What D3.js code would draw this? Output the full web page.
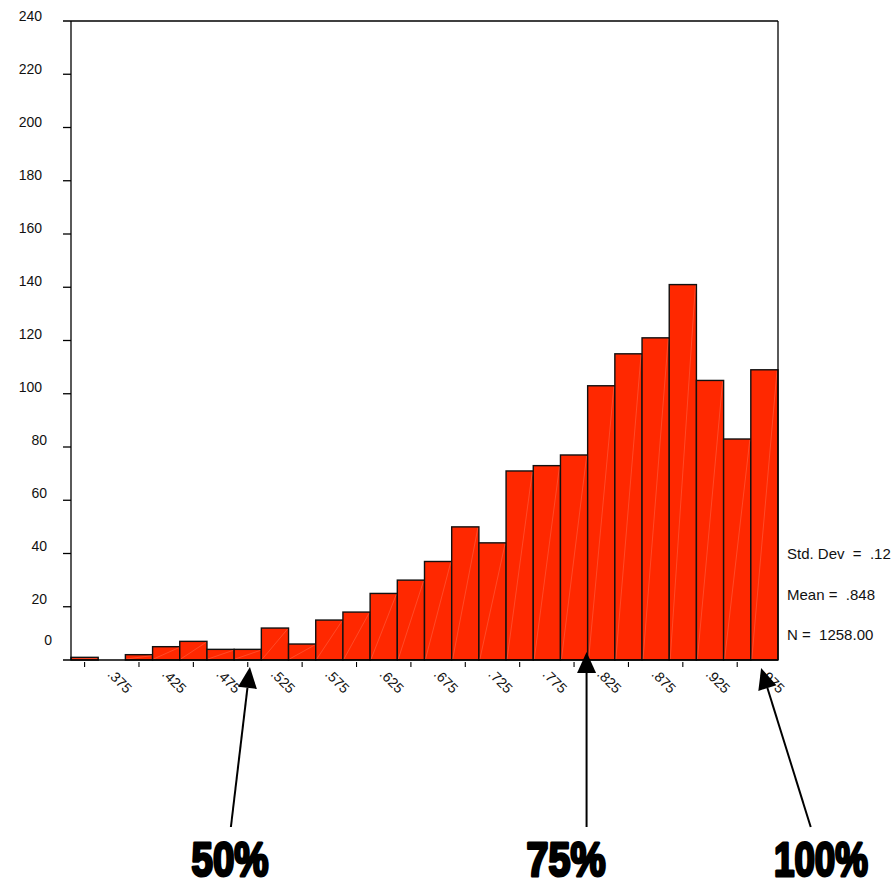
<!DOCTYPE html>
<html>
<head>
<meta charset="utf-8">
<script src="https://cdn.jsdelivr.net/npm/d3@7/dist/d3.min.js"></script>
<style>
  html, body { margin: 0; padding: 0; background: #ffffff; }
  svg { display: block; font-family: Arial, "Liberation Sans", sans-serif; }
</style>
</head>
<body>
<div id="chart"></div>
<script>
// ---------------- data ----------------
const binCenters = [0.350, 0.375, 0.400, 0.425, 0.450, 0.475, 0.500, 0.525, 0.550, 0.575,
                    0.600, 0.625, 0.650, 0.675, 0.700, 0.725, 0.750, 0.775, 0.800, 0.825,
                    0.850, 0.875, 0.900, 0.925, 0.950, 0.975];
const counts = [1, 0, 2, 5, 7, 4, 4, 12, 6, 15,
                18, 25, 30, 37, 50, 44, 71, 73, 77, 103,
                115, 121, 141, 105, 83, 109];
const tickMarks = [0.35, 0.40, 0.45, 0.50, 0.55, 0.60, 0.65, 0.70, 0.75, 0.80, 0.85, 0.90, 0.95];
const tickLabelValues = [0.375, 0.425, 0.475, 0.525, 0.575, 0.625, 0.675, 0.725, 0.775, 0.825, 0.875, 0.925, 0.975];
const tickLabels = [".375", ".425", ".475", ".525", ".575", ".625", ".675", ".725", ".775", ".825", ".875", ".925", ".975"];
const yTicks = [0, 20, 40, 60, 80, 100, 120, 140, 160, 180, 200, 220, 240];
const statsLines = ["Std. Dev  =  .12", "Mean =  .848", "N =  1258.00"];
const arrowLabels = ["50%", "75%", "100%"];
const arrowTargets = [0.502, 0.8115, 0.972];   // x value the arrow points at
const arrowTails = [0.4845, 0.8115, 1.0176];   // x value of the arrow's lower end
const arrowLabelCenters = [0.4837, 0.7926, 1.027];

// ---------------- layout ----------------
const W = 894, H = 882;
const plot = { left: 71, right: 778, top: 21, bottom: 660 };
const binWidth = 0.025;

const svg = d3.select("#chart").append("svg")
  .attr("width", W).attr("height", H)
  .attr("viewBox", `0 0 ${W} ${H}`);

const x = d3.scaleLinear()
  .domain([binCenters[0] - binWidth / 2, binCenters[binCenters.length - 1] + binWidth / 2])
  .range([plot.left, plot.right]);
const y = d3.scaleLinear().domain([0, 240]).range([plot.bottom, plot.top]);
// tick labels in the original sit slightly off their ticks
const yLab = d3.scaleLinear().domain([20, 240]).range([604, 21]);

// ---------------- bars ----------------
const bars = svg.append("g");
bars.selectAll("rect")
  .data(counts.map((c, i) => ({ c, x: binCenters[i] })))
  .join("rect")
  .attr("x", d => x(d.x - binWidth / 2))
  .attr("width", d => x(d.x + binWidth / 2) - x(d.x - binWidth / 2))
  .attr("y", d => y(d.c))
  .attr("height", d => y(0) - y(d.c))
  .attr("fill", "#ff2800")
  .attr("stroke", "#111")
  .attr("stroke-width", 1.4);

// faint diagonal streaks inside bars
bars.selectAll("line.streak")
  .data(counts.map((c, i) => ({ c, x: binCenters[i] })).filter(d => d.c > 0))
  .join("line")
  .attr("class", "streak")
  .attr("x1", d => x(d.x - binWidth / 2) + 1)
  .attr("y1", y(0) - 1)
  .attr("x2", d => x(d.x + binWidth / 2) - 1)
  .attr("y2", d => y(d.c) + 1)
  .attr("stroke", "rgba(255,170,150,0.45)")
  .attr("stroke-width", 0.6);

// ---------------- frame / axes ----------------
const axisG = svg.append("g").attr("stroke", "#000").attr("stroke-width", 1.3).attr("fill", "none");
axisG.append("line").attr("x1", plot.left).attr("x2", plot.left).attr("y1", y(240)).attr("y2", y(0));
axisG.append("line").attr("x1", plot.right).attr("x2", plot.right).attr("y1", y(240)).attr("y2", y(0));
axisG.append("line").attr("x1", plot.left - 8).attr("x2", plot.right).attr("y1", y(240)).attr("y2", y(240));
axisG.append("line").attr("x1", plot.left - 8).attr("x2", plot.right).attr("y1", y(0)).attr("y2", y(0))
  .attr("stroke-width", 1.6);
axisG.selectAll("line.yt").data(yTicks.filter(v => v > 0 && v < 240)).join("line")
  .attr("class", "yt")
  .attr("x1", plot.left - 8).attr("x2", plot.left)
  .attr("y1", d => y(d)).attr("y2", d => y(d));
axisG.selectAll("line.xt").data(tickMarks).join("line")
  .attr("class", "xt")
  .attr("x1", d => x(d)).attr("x2", d => x(d))
  .attr("y1", y(0) + 2).attr("y2", y(0) + 7)
  .attr("stroke-width", 1.1);

// y labels
svg.append("g").selectAll("text").data(yTicks).join("text")
  .attr("x", d => 42 + (3 - String(d).length) * 5)
  .attr("y", d => d === 0 ? y(0) - 15 : yLab(d))
  .attr("text-anchor", "end")
  .attr("font-size", 14)
  .attr("fill", "#111")
  .text(d => String(d));

// x labels (rotated)
svg.append("g").selectAll("text").data(tickLabelValues).join("text")
  .attr("transform", d => `translate(${x(d) - 5},${y(0) + 15}) rotate(45)`)
  .attr("font-size", 14)
  .attr("fill", "#111")
  .text((d, i) => tickLabels[i]);

// stats text
svg.append("g").selectAll("text").data(statsLines).join("text")
  .attr("x", 787)
  .attr("y", (d, i) => 559 + i * 40.5)
  .attr("font-size", 15)
  .attr("fill", "#111")
  .style("white-space", "pre")
  .attr("xml:space", "preserve")
  .text(d => d);

// ---------------- arrows ----------------
const tailY = 827, labelBase = 876;
const tipYs = [y(0) + 7, y(0) - 8, y(0) + 8];
const arrows = svg.append("g");
arrowTargets.forEach((t, i) => {
  const x1 = x(arrowTails[i]), y1 = tailY;
  const x2 = x(t), y2 = tipYs[i];
  const dx = x2 - x1, dy = y2 - y1, len = Math.hypot(dx, dy);
  const ux = dx / len, uy = dy / len;
  const headLen = 21, headHalf = 9.5;
  const bx = x2 - ux * headLen, by = y2 - uy * headLen;
  arrows.append("line")
    .attr("x1", x1).attr("y1", y1).attr("x2", bx).attr("y2", by)
    .attr("stroke", "#000").attr("stroke-width", 2);
  arrows.append("path")
    .attr("d", `M${x2},${y2}L${bx - uy * headHalf},${by + ux * headHalf}L${bx + uy * headHalf},${by - ux * headHalf}Z`)
    .attr("fill", "#000");
});

// big percentage labels
const labelWidths = [80, 82, 97];
svg.append("g").selectAll("text").data(arrowLabels).join("text")
  .attr("x", (d, i) => x(arrowLabelCenters[i]))
  .attr("y", labelBase)
  .attr("text-anchor", "middle")
  .attr("font-family", "'Liberation Sans', Arial, sans-serif")
  .attr("font-weight", 900)
  .attr("font-size", 48)
  .attr("textLength", (d, i) => labelWidths[i] - 3)
  .attr("lengthAdjust", "spacingAndGlyphs")
  .attr("fill", "#000")
  .attr("stroke", "#000")
  .attr("stroke-width", 3)
  .attr("stroke-linejoin", "round")
  .text(d => d);
</script>
</body>
</html>
